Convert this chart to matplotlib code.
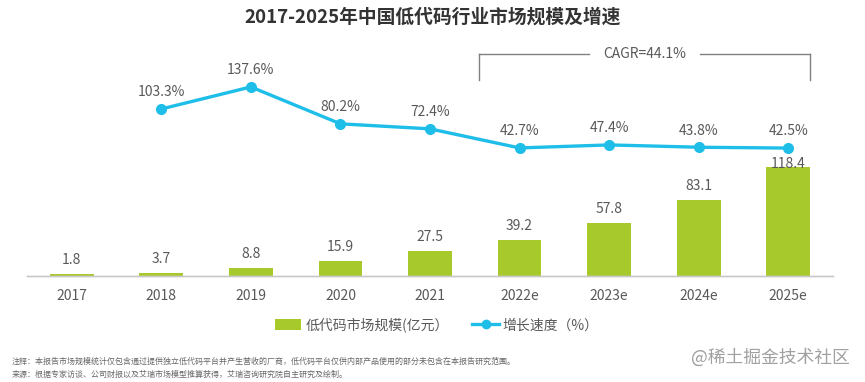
import matplotlib
matplotlib.use("Agg")
import matplotlib.pyplot as plt
from matplotlib.lines import Line2D
from matplotlib.patches import Patch

plt.rcParams["font.family"] = ["Noto Sans CJK SC", "DejaVu Sans"]

# ── 数据 ──────────────────────────────────────────
years = ["2017", "2018", "2019", "2020", "2021", "2022e", "2023e", "2024e", "2025e"]
market_size = [1.8, 3.7, 8.8, 15.9, 27.5, 39.2, 57.8, 83.1, 118.4]
growth_years = years[1:]
growth_rate = [103.3, 137.6, 80.2, 72.4, 42.7, 47.4, 43.8, 42.5]

title = "2017-2025年中国低代码行业市场规模及增速"
cagr_text = "CAGR=44.1%"
legend_labels = ["低代码市场规模(亿元）", "增长速度（%）"]
note_lines = [
    "注释：本报告市场规模统计仅包含通过提供独立低代码平台并产生营收的厂商，低代码平台仅供内部产品使用的部分未包含在本报告研究范围。",
    "来源：根据专家访谈、公司财报以及艾瑞市场模型推算获得，艾瑞咨询研究院自主研究及绘制。",
]
watermark = "@稀土掘金技术社区"

BAR_C = "#a8c92b"
LINE_C = "#1fbee9"
TXT_C = "#595959"

fig = plt.figure(figsize=(8.65, 3.82), dpi=100)
fig.patch.set_facecolor("white")

ax = fig.add_axes([27 / 865, 106 / 382, 806 / 865, 236 / 382])
ax2 = ax.twinx()

x = list(range(len(years)))
ax.bar(x, market_size, width=0.49, color=BAR_C, zorder=2)

gx = [years.index(y) for y in growth_years]
ax2.plot(gx, growth_rate, color=LINE_C, lw=2.4, marker="o", ms=7, zorder=3)
for xi, v in zip(gx, growth_rate):
    ax2.annotate(f"{v}%", (xi, v), xytext=(0, 7), textcoords="offset points",
                 ha="center", va="bottom", fontsize=10, color=TXT_C)

# 柱标签画在折线之上，最后一个贴近柱顶
for i, (xi, v) in enumerate(zip(x, market_size)):
    dy = -2.5 if i == len(x) - 1 else 5
    ax2.annotate(f"{v}", (xi, v), xycoords=ax.transData, xytext=(0, dy),
                 textcoords="offset points", ha="center", va="bottom",
                 fontsize=10, color=TXT_C, zorder=5)

ax.set_xlim(-0.5, 8.5)
ax.set_ylim(0, 256.5)
ax2.set_ylim(-156.5, 210.6)

ax.set_xticks(x)
ax.set_xticklabels(years, fontsize=10, color=TXT_C)
ax.tick_params(axis="x", length=0, pad=9)
ax.set_yticks([])
ax2.set_yticks([])
for a in (ax, ax2):
    for s in ("top", "right", "left"):
        a.spines[s].set_visible(False)
    a.spines["bottom"].set_color("#c8c8c8")
    a.spines["bottom"].set_linewidth(1.0)
    a.patch.set_visible(False)

# CAGR 括号
bx0, bx1 = 4.55, 8.24
ytop, ybot = 0.941, 0.83
trans = ax.get_xaxis_transform()
cx = (bx0 + bx1) / 2
for seg in ([bx0, cx - 0.62], [cx + 0.62, bx1]):
    ax.add_line(Line2D(seg, [ytop, ytop], transform=trans, color="#808080",
                       lw=1.0, clip_on=False))
for bx in (bx0, bx1):
    ax.add_line(Line2D([bx, bx], [ytop, ybot], transform=trans, color="#808080",
                       lw=1.0, clip_on=False))
ax.text(cx, ytop, cagr_text, transform=trans, ha="center", va="center",
        fontsize=10, color=TXT_C)

fig.text(0.5, 1 - 17 / 382, title, ha="center", va="center", fontsize=13.5,
         fontweight="bold", color="#333333")

handles = [Patch(facecolor=BAR_C, edgecolor="none"),
           Line2D([], [], color=LINE_C, lw=2.4, marker="o", ms=6)]
fig.legend(handles, legend_labels, loc="center", bbox_to_anchor=(0.505, 1 - 325 / 382),
           ncol=2, frameon=False, fontsize=10, labelcolor=TXT_C,
           handlelength=1.9, handleheight=0.8, columnspacing=1.7, handletextpad=0.3)

fig.text(12 / 865, 1 - 361 / 382, note_lines[0], ha="left", va="center",
         fontsize=5.75, color="#666666")
fig.text(12 / 865, 1 - 374 / 382, note_lines[1], ha="left", va="center",
         fontsize=5.75, color="#666666")
fig.text(850 / 865, 1 - 357 / 382, watermark, ha="right", va="center",
         fontsize=12.8, color="#a0a0a0")

fig.savefig("out.png", dpi=100, facecolor="white")
